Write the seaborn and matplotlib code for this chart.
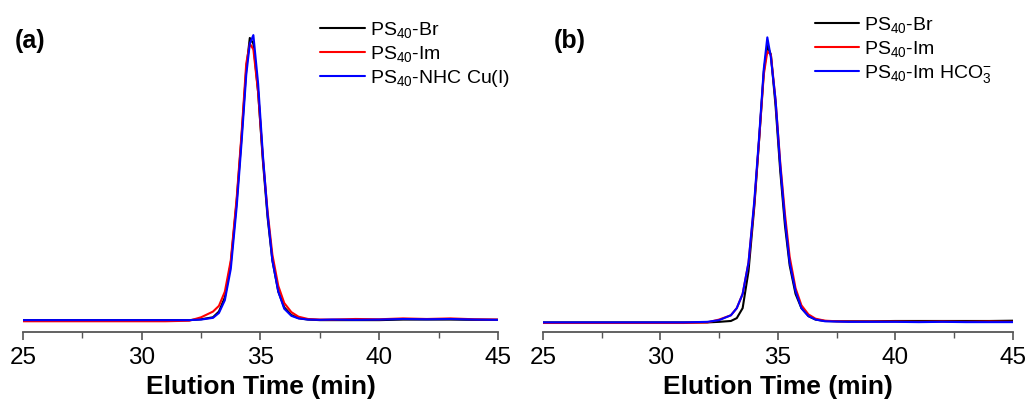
import numpy as np
import matplotlib
matplotlib.use('Agg')
import matplotlib.pyplot as plt
import seaborn as sns

sns.set_style('white')
plt.rcParams['font.family'] = ['Liberation Sans', 'DejaVu Sans']
plt.rcParams['mathtext.default'] = 'regular'
plt.rcParams['text.color'] = 'black'
plt.rcParams['axes.labelcolor'] = 'black'
plt.rcParams['xtick.color'] = 'black'

# elution time grid (min)
time = [25, 28, 30, 31, 32, 32.5, 33, 33.25, 33.5, 33.75, 34.0, 34.2, 34.4, 34.55,
        34.7, 34.9, 35.1, 35.3, 35.5, 35.75, 36.0, 36.3, 36.6, 37, 37.5, 38, 39,
        40, 41, 42, 43, 44, 45]

# (a) normalised RI signal
a_br = [0, 0, 0, 0, 0, 0.003, 0.01, 0.03, 0.08, 0.20, 0.42, 0.64, 0.88, 0.99,
        0.97, 0.80, 0.56, 0.36, 0.21, 0.10, 0.045, 0.018, 0.007, 0.002, 0, 0, 0,
        0, 0.002, 0.002, 0.002, 0.001, 0.001]
a_im = [-0.004, -0.004, -0.004, -0.004, -0.002, 0.01, 0.03, 0.05, 0.10, 0.21, 0.43, 0.65, 0.90, 0.97,
        0.95, 0.80, 0.57, 0.38, 0.23, 0.12, 0.06, 0.028, 0.012, 0.004, 0.002, 0.002, 0.004,
        0.003, 0.006, 0.004, 0.006, 0.003, 0.002]
a_cu = [0, 0, 0, 0, 0, 0.002, 0.008, 0.025, 0.07, 0.18, 0.40, 0.62, 0.86, 0.97,
        1.0, 0.83, 0.58, 0.37, 0.21, 0.10, 0.04, 0.015, 0.006, 0.002, 0.001, 0.002, 0.001,
        0.002, 0.004, 0.003, 0.004, 0.002, 0.001]

# (b) normalised RI signal
b_br = [0, 0, 0, 0, 0, 0.002, 0.005, 0.015, 0.05, 0.18, 0.41, 0.64, 0.88, 0.97,
        0.94, 0.76, 0.53, 0.34, 0.20, 0.10, 0.05, 0.022, 0.01, 0.005, 0.004, 0.004, 0.004,
        0.005, 0.005, 0.005, 0.005, 0.005, 0.006]
b_im = [-0.002, -0.002, -0.002, -0.002, 0, 0.01, 0.025, 0.05, 0.10, 0.21, 0.42, 0.64, 0.87, 0.95,
        0.94, 0.78, 0.56, 0.38, 0.23, 0.12, 0.06, 0.028, 0.013, 0.006, 0.004, 0.003, 0.003,
        0.003, 0.002, 0.003, 0.002, 0.003, 0.002]
b_hco3 = [0, 0, 0, 0, 0.002, 0.008, 0.025, 0.05, 0.10, 0.21, 0.43, 0.65, 0.89, 1.0,
          0.93, 0.78, 0.55, 0.36, 0.21, 0.11, 0.05, 0.022, 0.01, 0.004, 0.003, 0.002, 0.002,
          0.002, 0.001, 0.002, 0.001, 0.001, 0.001]

labels_a = ['PS$_{40}$-Br', 'PS$_{40}$-Im', 'PS$_{40}$-NHC Cu(I)']
labels_b = ['PS$_{40}$-Br', 'PS$_{40}$-Im', 'PS$_{40}$-Im HCO$_3^{-}$']
colors = ['black', 'red', 'blue']

fig = plt.figure(figsize=(10.3, 4.05), dpi=100)
ax1 = fig.add_axes([0.0223, 0.180, 0.4612, 0.758])
ax2 = fig.add_axes([0.527, 0.180, 0.4565, 0.758])
ax1.patch.set_alpha(0)
ax2.patch.set_alpha(0)

panels = [(ax1, [a_br, a_im, a_cu], labels_a, 0.0, (0.625, 1.017)),
          (ax2, [b_br, b_im, b_hco3], labels_b, -0.008, (0.578, 1.033))]

for ax, series, labels, offset, anchor in panels:
    for ys, lab, c in zip(series, labels, colors):
        sns.lineplot(x=time, y=np.array(ys) + offset, ax=ax, color=c, label=lab,
                     linewidth=1.5)
    ax.set_xlim(25, 45)
    ax.set_ylim(-0.042, 1.035)
    ax.set_xticks([25, 30, 35, 40, 45])
    ax.set_xticks([27.5, 32.5, 37.5, 42.5], minor=True)
    ax.set_yticks([])
    for s in ['left', 'right', 'top']:
        ax.spines[s].set_visible(False)
    ax.spines['bottom'].set_color('#555555')
    ax.spines['bottom'].set_linewidth(1.3)
    ax.tick_params(axis='x', which='major', direction='out', length=6, width=1.2,
                   color='#555555', labelsize=17.5, bottom=True, pad=5)
    ax.tick_params(axis='x', which='minor', direction='out', length=4, width=1.0,
                   color='#555555', bottom=True)
    ax.set_xlabel('Elution Time (min)', fontsize=19, fontweight='bold', labelpad=4)
    ax.legend(loc='upper left', bbox_to_anchor=anchor, frameon=False, fontsize=14,
              handlelength=2.3, handletextpad=0.26, labelspacing=0.2, borderaxespad=0,
              borderpad=0)

fig.text(0.014, 0.898, '(a)', fontsize=18, fontweight='bold', ha='left', va='center')
fig.text(0.538, 0.898, '(b)', fontsize=18, fontweight='bold', ha='left', va='center')

plt.savefig('out.png', dpi=100)
